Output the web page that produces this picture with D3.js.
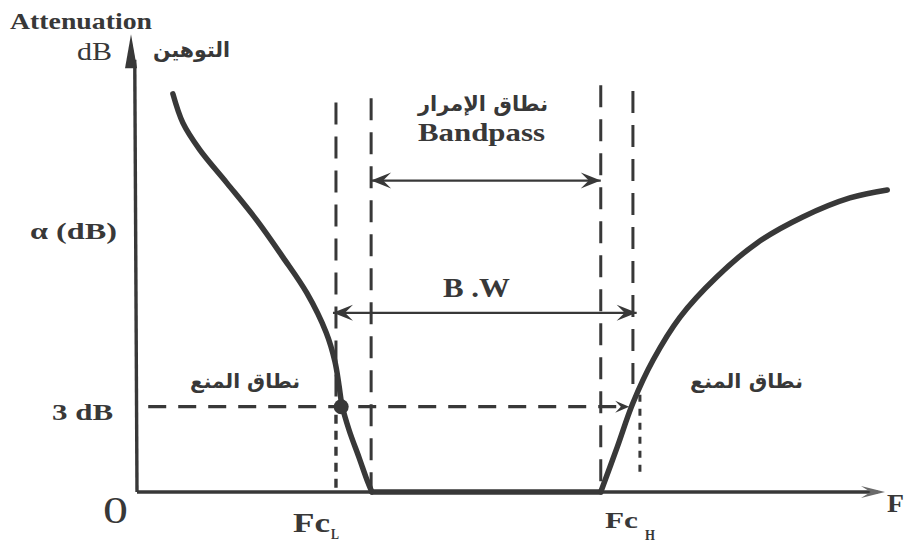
<!DOCTYPE html>
<html>
<head>
<meta charset="utf-8">
<script src="https://cdn.jsdelivr.net/npm/d3@7"></script>
<style>
  html, body { margin: 0; padding: 0; background: #fff; }
  svg { display: block; }
  .lat { font-family: "Liberation Serif", "DejaVu Serif", serif; fill: #383838; }
  .ar { font-family: "DejaVu Sans", "Noto Sans", sans-serif; font-weight: bold; fill: #383838; }
</style>
</head>
<body>
<svg id="chart" width="904" height="543"></svg>
<script>
/* filter attenuation vs frequency — schematic band-pass response */

// frequency (arbitrary units 0..100) , attenuation (dB)
var lowStop = [
  [4.8, 14.0], [6.15, 12.97], [8.4, 12.03], [12.0, 10.87], [16.0, 9.56], [19.5, 8.26],
  [22.7, 7.0], [25.3, 5.6], [26.45, 4.6], [27.0, 3.76], [27.4, 3.06], [28.35, 2.18],
  [29.7, 1.2], [30.75, 0.42], [31.4, 0]
];
var passFlat = [[31.4, 0], [62.0, 0]];
var highStop = [
  [62.0, 0], [64.2, 1.58], [66.3, 3.13], [69.0, 4.64], [72.6, 6.15], [77.5, 7.56],
  [82.9, 8.76], [89.0, 9.67], [95.3, 10.34], [100.3, 10.62]
];

// edges: Fc_L, start of passband, end of passband, Fc_H
var edgeF    = [26.6, 31.3, 62.0, 66.3];
var edgeTop  = [13.7, 13.85, 14.3, 14.1];
var edgeLow  = [3.0, 0, 0, 3.8];

var level3dB = 3.0;
var bandpassLevel = 10.95;
var bwLevel = 6.3;

var svg = d3.select('#chart');
var x = d3.scaleLinear().domain([0, 100]).range([137, 885]);
var y = d3.scaleLinear().domain([0, 16]).range([492, 37]);
var ink = '#383838';

var line = d3.line().x(function (d) { return x(d[0]); }).y(function (d) { return y(d[1]); })
  .curve(d3.curveCatmullRom.alpha(0.5));

// ----- dashed band edges -----
svg.selectAll('line.edge').data(edgeF).enter().append('line').attr('class', 'edge')
  .attr('x1', function (d) { return x(d); }).attr('x2', function (d) { return x(d); })
  .attr('y1', function (d, i) { return y(edgeTop[i]); })
  .attr('y2', function (d, i) { return y(edgeLow[i]); })
  .attr('stroke', ink).attr('stroke-width', 3).attr('stroke-dasharray', '22,12');

// dotted drops below the 3 dB line
svg.append('line').attr('x1', x(edgeF[0])).attr('x2', x(edgeF[0]))
  .attr('y1', y(level3dB) + 8).attr('y2', y(0))
  .attr('stroke', ink).attr('stroke-width', 3.4).attr('stroke-dasharray', '9,7');
svg.append('line').attr('x1', x(edgeF[3]) + 7).attr('x2', x(edgeF[3]) + 7)
  .attr('y1', y(level3dB) - 12).attr('y2', y(0) - 20)
  .attr('stroke', ink).attr('stroke-width', 3).attr('stroke-dasharray', '7,7');

// ----- 3 dB level -----
svg.append('line').attr('x1', x(1.5)).attr('x2', x(65.6))
  .attr('y1', y(level3dB)).attr('y2', y(level3dB))
  .attr('stroke', ink).attr('stroke-width', 3.2).attr('stroke-dasharray', '18,12');

// ----- arrow heads -----
function head(px, py, dir, len, half) {
  // dir: 1 = pointing right, -1 = pointing left
  return 'M' + px + ',' + py + 'L' + (px - dir * len) + ',' + (py - half) +
    'L' + (px - dir * len * 0.6) + ',' + py + 'L' + (px - dir * len) + ',' + (py + half) + 'Z';
}
function dimArrow(f0, f1, lvl) {
  var yy = y(lvl);
  svg.append('line').attr('x1', x(f0)).attr('x2', x(f1)).attr('y1', yy).attr('y2', yy)
    .attr('stroke', ink).attr('stroke-width', 2.4);
  svg.append('path').attr('d', head(x(f0), yy, -1, 20, 8)).attr('fill', ink);
  svg.append('path').attr('d', head(x(f1), yy, 1, 20, 8)).attr('fill', ink);
}
dimArrow(edgeF[1], edgeF[2], bandpassLevel);
dimArrow(edgeF[0] - 0.4, edgeF[3] + 0.5, bwLevel);
svg.append('path').attr('d', head(x(65.8), y(level3dB), 1, 14, 6)).attr('fill', ink);

// ----- response curves -----
[lowStop, passFlat, highStop].forEach(function (seg) {
  svg.append('path').attr('d', line(seg)).attr('fill', 'none')
    .attr('stroke', ink).attr('stroke-width', 5.5).attr('stroke-linecap', 'round');
});
svg.append('circle').attr('cx', x(27.3)).attr('cy', y(level3dB)).attr('r', 7.5).attr('fill', ink);

// ----- axes -----
svg.append('line').attr('x1', x(0)).attr('x2', x(99)).attr('y1', y(0)).attr('y2', y(0))
  .attr('stroke', ink).attr('stroke-width', 3.4);
svg.append('path').attr('d', head(x(100), y(0), 1, 24, 6)).attr('fill', '#6a6a6a');
svg.append('line').attr('x1', x(0)).attr('x2', x(-0.3)).attr('y1', y(0)).attr('y2', y(15.2))
  .attr('stroke', ink).attr('stroke-width', 3.4);
svg.append('path')
  .attr('d', 'M' + (x(-0.8)) + ',' + (y(16.1)) + 'L' + (x(-0.8) - 6) + ',' + (y(14.9)) +
    'L' + (x(-0.8) + 6) + ',' + (y(14.9)) + 'Z')
  .attr('fill', ink);

// ----- labels ----- (left x, baseline, size, weight, width)
function txt(cls, s, px, py, size, weight, w) {
  var t = svg.append('text').attr('class', cls).attr('x', px).attr('y', py)
    .attr('font-size', size).attr('font-weight', weight || 'bold').text(s);
  if (w) t.attr('textLength', w).attr('lengthAdjust', 'spacingAndGlyphs');
  return t;
}
txt('lat', 'Attenuation', 10, 29, 23, 'bold', 142);
txt('lat', 'dB', 77, 60, 26, 'normal', 35);
txt('ar', 'التوهين', 153, 57, 21, 'bold', 77);
txt('lat', 'α (dB)', 30, 239, 24, 'bold', 87);
txt('lat', '3 dB', 52, 420, 24, 'bold', 61);
txt('lat', '0', 103, 523, 38, 'normal', 25);
txt('lat', 'F', 887, 512, 25, 'bold', 17);

txt('lat', 'Fc', 293, 532, 27, 'bold', 37);
txt('lat', 'L', 331, 539, 15, 'bold', 8);
txt('lat', 'Fc', 605, 528, 23, 'bold', 33);
txt('lat', 'H', 645, 540, 15, 'bold', 10);

txt('ar', 'نطاق الإمرار', 418, 111, 21, 'bold', 130);
txt('lat', 'Bandpass', 418, 141, 25, 'bold', 127);
txt('lat', 'B .W', 443, 297, 27, 'bold', 67);
txt('ar', 'نطاق المنع', 190, 388, 20, 'bold', 110);
txt('ar', 'نطاق المنع', 690, 388, 20, 'bold', 113);
</script>
</body>
</html>
